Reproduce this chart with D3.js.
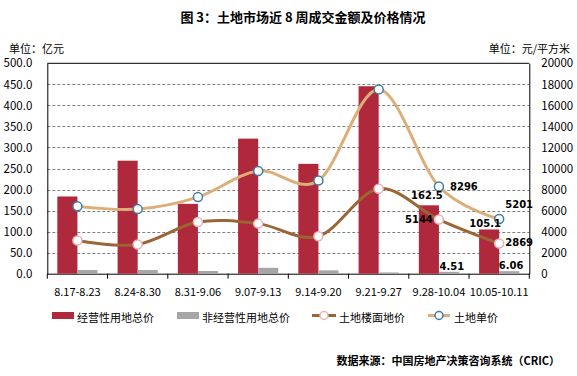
<!doctype html>
<html>
<head>
<meta charset="utf-8">
<script src="https://d3js.org/d3.v7.min.js"></script>
<style>
  body { margin: 0; background: #fff; }
  text { font-family: "Noto Sans CJK SC", "Noto Sans", sans-serif; fill: #000; }
  .lbl { font-family: "DejaVu Sans", sans-serif; font-weight: bold; font-size: 10px; }
</style>
</head>
<body>
<svg width="577" height="376"></svg>
<script>
// week ranges
var weeks = ["8.17-8.23", "8.24-8.30", "8.31-9.06", "9.07-9.13", "9.14-9.20", "9.21-9.27", "9.28-10.04", "10.05-10.11"];
// 经营性用地总价 (亿元)
var opTotal = [183.5, 268.5, 166, 321, 261, 445.5, 162.5, 105.1];
// 非经营性用地总价 (亿元)
var nonOpTotal = [8.7, 8.7, 6.4, 14, 8, 3, 4.51, 6.06];
// 土地楼面地价 (元/平方米)
var floorPrice = [3155, 2780, 4910, 4760, 3560, 8070, 5144, 2869];
// 土地单价 (元/平方米)
var unitPrice = [6400, 6140, 7280, 9770, 8850, 17520, 8296, 5201];
var leftTicks = [0, 50, 100, 150, 200, 250, 300, 350, 400, 450, 500];
var rightTicks = [0, 2000, 4000, 6000, 8000, 10000, 12000, 14000, 16000, 18000, 20000];

var svg = d3.select("svg");
var plotL = 47.3, plotR = 529.3, plotT = 63.3, plotB = 273.7;

var x = d3.scaleBand().domain(weeks).range([plotL, plotR]);
var xs = d3.scaleBand().domain(["op", "non"]).range([0, x.bandwidth()]).paddingInner(0).paddingOuter(0.5);
var yL = d3.scaleLinear().domain([0, 500]).range([plotB, plotT]);
var yR = d3.scaleLinear().domain([0, 20000]).range([plotB, plotT]);

// title + units
svg.append("text").attr("x", 303).attr("y", 22).attr("text-anchor", "middle")
   .attr("font-size", "13px").attr("font-weight", "bold").text("图 3：土地市场近 8 周成交金额及价格情况");
svg.append("text").attr("x", 9).attr("y", 53).attr("font-size", "11px").text("单位：亿元");
svg.append("text").attr("x", 570).attr("y", 53).attr("text-anchor", "end").attr("font-size", "11px").text("单位：元/平方米");

// gridlines
svg.append("g").selectAll("line").data(leftTicks.slice(1, -1)).enter().append("line")
   .attr("x1", plotL).attr("x2", plotR)
   .attr("y1", function(d) { return Math.round(yL(d)) + 0.5; }).attr("y2", function(d) { return Math.round(yL(d)) + 0.5; })
   .attr("stroke", "#808080").attr("stroke-dasharray", "3,2");

// axes
var gl = svg.append("g").attr("transform", "translate(" + plotL + ",0)")
   .call(d3.axisLeft(yL).tickValues(leftTicks).tickSize(0).tickPadding(15).tickFormat(d3.format(".1f")));
var gr = svg.append("g").attr("transform", "translate(" + plotR + ",0)")
   .call(d3.axisRight(yR).tickValues(rightTicks).tickSize(0).tickPadding(12).tickFormat(d3.format("d")));
var gx = svg.append("g").attr("transform", "translate(0," + plotB + ")")
   .call(d3.axisBottom(x).tickSize(0).tickPadding(15));
[gl, gr, gx].forEach(function(g) {
    g.select(".domain").attr("stroke", "#000");
    g.selectAll("text").attr("font-size", "11px").attr("font-family", "Noto Sans CJK SC").attr("fill", "#000");
});
gl.selectAll("text").attr("font-size", "11.5px");
gr.selectAll("text").attr("font-size", "11.5px");
// x ticks between bands
svg.append("g").selectAll("line").data(weeks.concat(["_end"])).enter().append("line")
   .attr("x1", function(d, i) { return plotL + i * x.bandwidth(); })
   .attr("x2", function(d, i) { return plotL + i * x.bandwidth(); })
   .attr("y1", plotB).attr("y2", plotB + 5).attr("stroke", "#000");
// top border
svg.append("line").attr("x1", plotL).attr("x2", plotR).attr("y1", plotT).attr("y2", plotT).attr("stroke", "#000");

// bars
svg.append("g").selectAll("rect").data(opTotal).enter().append("rect")
   .attr("x", function(d, i) { return x(weeks[i]) + xs("op"); })
   .attr("y", function(d) { return yL(d); })
   .attr("width", xs.bandwidth()).attr("height", function(d) { return plotB - yL(d); })
   .attr("fill", "#B0283B");
svg.append("g").selectAll("rect").data(nonOpTotal).enter().append("rect")
   .attr("x", function(d, i) { return x(weeks[i]) + xs("non"); })
   .attr("y", function(d) { return yL(d); })
   .attr("width", xs.bandwidth()).attr("height", function(d) { return plotB - yL(d); })
   .attr("fill", "#A6A6A6");

// lines
function cx(d, i) { return x(weeks[i]) + x.bandwidth() / 2; }
var line = d3.line().x(cx).y(function(d) { return yR(d); }).curve(d3.curveCardinal.tension(0));

svg.append("path").datum(unitPrice).attr("d", line).attr("fill", "none")
   .attr("stroke", "#DDAE79").attr("stroke-width", 3);
svg.append("path").datum(floorPrice).attr("d", line).attr("fill", "none")
   .attr("stroke", "#9B6535").attr("stroke-width", 3);

svg.append("g").selectAll("circle").data(floorPrice).enter().append("circle")
   .attr("cx", cx).attr("cy", function(d) { return yR(d); }).attr("r", 4.5)
   .attr("fill", "#fff").attr("stroke", "#E8B3B8").attr("stroke-width", 1.5);
svg.append("g").selectAll("circle").data(unitPrice).enter().append("circle")
   .attr("cx", cx).attr("cy", function(d) { return yR(d); }).attr("r", 4.5)
   .attr("fill", "#fff").attr("stroke", "#3F7BA2").attr("stroke-width", 1.5);

// data labels on the last two weeks
var labels = [
    { arr: opTotal, i: 6, scale: yL, pos: "op", dx: -2, dy: -6, text: "162.5" },
    { arr: opTotal, i: 7, scale: yL, pos: "op", dx: -4, dy: -2, text: "105.1" },
    { arr: nonOpTotal, i: 6, scale: yL, pos: "non", dx: 3, dy: -2, text: "4.51" },
    { arr: nonOpTotal, i: 7, scale: yL, pos: "non", dx: 2, dy: -2, text: "6.06" },
    { arr: unitPrice, i: 6, scale: yR, pos: "mid", dx: 25, dy: 4, text: "8296" },
    { arr: unitPrice, i: 7, scale: yR, pos: "mid", dx: 20, dy: -11, text: "5201" },
    { arr: floorPrice, i: 6, scale: yR, pos: "mid", dx: -20, dy: 3, text: "5144" },
    { arr: floorPrice, i: 7, scale: yR, pos: "mid", dx: 20, dy: 2, text: "2869" }
];
svg.append("g").selectAll("text").data(labels).enter().append("text")
   .attr("class", "lbl").attr("text-anchor", "middle")
   .attr("x", function(d) {
       var base = d.pos === "mid" ? cx(null, d.i) : x(weeks[d.i]) + xs(d.pos) + xs.bandwidth() / 2;
       return base + d.dx;
   })
   .attr("y", function(d) { return d.scale(d.arr[d.i]) + d.dy; })
   .text(function(d) { return d.text; });

// legend
var lg = svg.append("g");
lg.append("rect").attr("x", 52).attr("y", 312).attr("width", 22).attr("height", 7).attr("fill", "#B0283B");
lg.append("text").attr("x", 77).attr("y", 322).attr("font-size", "11px").text("经营性用地总价");
lg.append("rect").attr("x", 177).attr("y", 312).attr("width", 22).attr("height", 7).attr("fill", "#A6A6A6");
lg.append("text").attr("x", 202).attr("y", 322).attr("font-size", "11px").text("非经营性用地总价");
lg.append("line").attr("x1", 312).attr("x2", 336).attr("y1", 315.5).attr("y2", 315.5).attr("stroke", "#9B6535").attr("stroke-width", 3);
lg.append("circle").attr("cx", 324).attr("cy", 315.5).attr("r", 4).attr("fill", "#fff").attr("stroke", "#E8B3B8").attr("stroke-width", 1.5);
lg.append("text").attr("x", 339).attr("y", 322).attr("font-size", "11px").text("土地楼面地价");
lg.append("line").attr("x1", 428).attr("x2", 450).attr("y1", 315.5).attr("y2", 315.5).attr("stroke", "#DDAE79").attr("stroke-width", 3);
lg.append("circle").attr("cx", 439).attr("cy", 315.5).attr("r", 4).attr("fill", "#fff").attr("stroke", "#3F7BA2").attr("stroke-width", 1.5);
lg.append("text").attr("x", 454).attr("y", 322).attr("font-size", "11px").text("土地单价");

// source
svg.append("text").attr("x", 560).attr("y", 365).attr("text-anchor", "end")
   .attr("font-size", "11px").attr("font-weight", "bold").text("数据来源：中国房地产决策咨询系统（CRIC）");
</script>
</body>
</html>
